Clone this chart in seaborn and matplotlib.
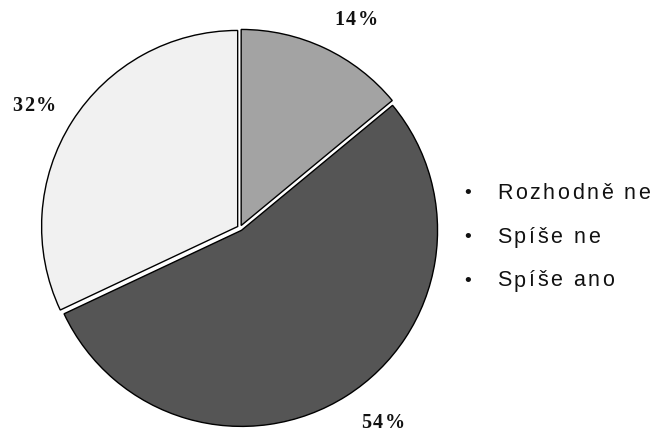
import matplotlib.pyplot as plt
import seaborn as sns

# data
labels = ['Rozhodně ne', 'Spíše ne', 'Spíše ano']
shares = [14, 54, 32]
pct_text = ['14%', '54%', '32%']
colors = ['#a3a3a3', '#555555', '#f1f1f1']

sns.set_theme(style='white')
plt.rcParams['font.family'] = ['Liberation Sans', 'DejaVu Sans']

fig = plt.figure(figsize=(6.55, 4.33), dpi=100)
ax = fig.add_axes([40 / 655, 5 / 433, 400 / 655, 400 / 433])

wedges, _ = ax.pie(shares, colors=colors, startangle=90, counterclock=False,
                   explode=[0.014, 0.014, 0.014],
                   wedgeprops=dict(edgecolor='black', linewidth=1.0))
ax.set_xlim(-1.02, 1.02)
ax.set_ylim(-1.02, 1.02)
ax.set_aspect('equal')

renderer = fig.canvas.get_renderer()


def spaced_text(x_px, y_px, s, spacing, ha='left', **kw):
    # draw text letter by letter with extra tracking (pixel coords, y from top)
    def width(sub):
        if not sub:
            return 0
        t = fig.text(0, 0, sub, **kw)
        w = t.get_window_extent(renderer).width
        t.remove()
        return w
    total = width(s) + spacing * (len(s) - 1)
    if ha == 'center':
        x_px -= total / 2
    for i, ch in enumerate(s):
        if ch == ' ':
            continue
        x = x_px + width(s[:i]) + spacing * i
        fig.text(x / 655, 1 - y_px / 433, ch, ha='left', va='center', **kw)


# percentage labels outside the pie
label_pos = [(356, 20), (383, 423), (34, 106)]
for txt, (x, y) in zip(pct_text, label_pos):
    spaced_text(x, y, txt, 2, ha='center', family='Liberation Serif',
                fontweight='bold', fontsize=14.5, color='#111111')

# legend as bullet list
for i, lab in enumerate(labels):
    y = 193 + i * 44
    fig.text(468 / 655, 1 - y / 433, '•', fontsize=14, ha='center', va='center', color='#111111')
    spaced_text(497, y, lab, 2.6, fontsize=15.5, color='#111111')

fig.savefig('out.png', dpi=100)
